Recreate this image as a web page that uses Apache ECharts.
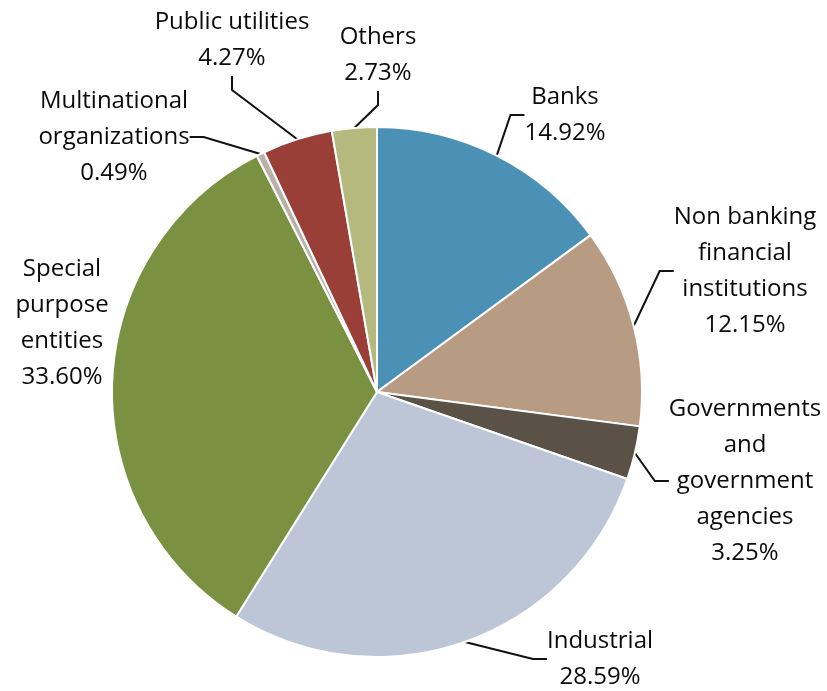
<!DOCTYPE html>
<html>
<head>
<meta charset="utf-8">
<script src="https://cdn.jsdelivr.net/npm/echarts@6/dist/echarts.min.js"></script>
<style>
  html, body { margin: 0; padding: 0; background: #ffffff; }
  #chart { width: 827px; height: 691px; }
</style>
</head>
<body>
<div id="chart"></div>
<script>
// Sector breakdown, clockwise from the top
const categories = [
  'Banks',
  'Non banking\nfinancial\ninstitutions',
  'Governments\nand\ngovernment\nagencies',
  'Industrial',
  'Special\npurpose\nentities',
  'Multinational\norganizations',
  'Public utilities',
  'Others'
];
const shares = [14.92, 12.15, 3.25, 28.59, 33.60, 0.49, 4.27, 2.73];
const sliceColors = ['#4b91b6', '#b79b82', '#5a5147', '#bcc6d6', '#7a9142', '#b9b1a9', '#9a3e38', '#b5b97e'];
// Labels that sit right against their slice need no leader line
const showLeader = [true, true, true, true, false, true, true, true];

// Where each label block sits (centre of text block)
const labelSpots = [
  [565, 115], [745, 271], [745, 481], [600, 659],
  [62, 323], [114, 137], [232, 40], [378, 55]
];

const chart = echarts.init(document.getElementById('chart'), null, { renderer: 'canvas' });

chart.setOption({
  animation: false,
  backgroundColor: '#ffffff',
  series: [{
    type: 'pie',
    center: [377, 392],
    radius: [0, 265],
    startAngle: 90,
    clockwise: true,
    avoidLabelOverlap: false,
    itemStyle: { borderColor: '#ffffff', borderWidth: 2 },
    label: {
      show: true,
      position: 'outside',
      color: '#0a0a0a',
      fontFamily: 'Open Sans',
      fontSize: 24,
      lineHeight: 36,
      align: 'center',
      formatter: p => p.name + '\n' + p.value.toFixed(2) + '%'
    },
    labelLine: {
      show: true,
      length: 12,
      length2: 14,
      lineStyle: { color: '#111111', width: 2 }
    },
    labelLayout: params => {
      const s = labelSpots[params.dataIndex];
      return { x: s[0], y: s[1], align: 'center', verticalAlign: 'middle' };
    },
    data: categories.map((name, i) => ({
      name: name,
      value: shares[i],
      itemStyle: { color: sliceColors[i] },
      labelLine: { show: showLeader[i] }
    }))
  }]
});
</script>
</body>
</html>
